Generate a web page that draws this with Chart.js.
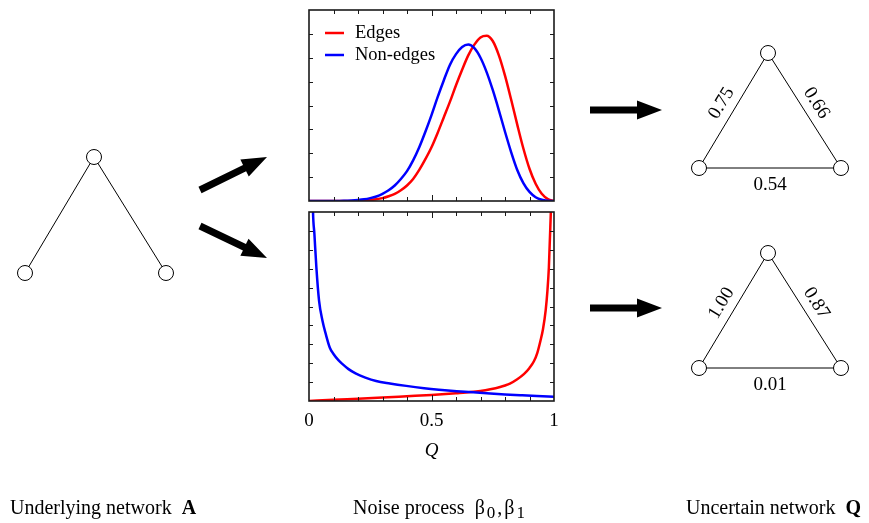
<!DOCTYPE html>
<html>
<head>
<meta charset="utf-8">
<script src="https://cdn.jsdelivr.net/npm/chart.js@4.4.0/dist/chart.umd.min.js"></script>
<style>
body { margin: 0; background: #fff; }
#wrap { position: relative; width: 869px; height: 523px; overflow: hidden; font-family: "Liberation Serif", "Times New Roman", serif; }
canvas { position: absolute; }
.cap { position: absolute; top: 496px; font-size: 20px; line-height: 22px; white-space: nowrap; color: #000; }
.cap sub { font-size: 0.85em; vertical-align: -0.22em; }
.beta { letter-spacing: 2px; }
</style>
</head>
<body>
<div id="wrap">
<canvas id="net" width="869" height="523" style="left:0;top:0"></canvas>
<canvas id="topPanel" width="280" height="212" style="left:290px;top:0"></canvas>
<canvas id="bottomPanel" width="280" height="260" style="left:290px;top:205px"></canvas>
<div class="cap" style="left:10px">Underlying network&nbsp;&nbsp;<b>A</b></div>
<div class="cap" style="left:353px">Noise process&nbsp;&nbsp;<span class="beta">β<sub>0</sub>,β<sub>1</sub></span></div>
<div class="cap" style="left:686px">Uncertain network&nbsp;&nbsp;<b>Q</b></div>
</div>
<script>
// series names
const seriesNames = ['Edges', 'Non-edges'];

// top panel: Q grid and densities (units = tick intervals)
const qTop = [0, 0.025, 0.05, 0.075, 0.1, 0.125, 0.15, 0.175, 0.2, 0.225, 0.25, 0.275, 0.3, 0.325, 0.35, 0.375, 0.4, 0.425, 0.45, 0.475, 0.5,
  0.525, 0.55, 0.575, 0.6, 0.625, 0.65, 0.675, 0.7, 0.725, 0.75, 0.775, 0.8, 0.825, 0.85, 0.875, 0.9, 0.925, 0.95, 0.975, 1];
const edgesTop = [0, 0, 0, 0, 0, 0, 0, 0.005, 0.01, 0.02, 0.04, 0.07, 0.12, 0.2, 0.3, 0.45, 0.65, 0.92, 1.3, 1.75, 2.25,
  2.85, 3.5, 4.15, 4.85, 5.5, 6.1, 6.55, 6.85, 6.92, 6.7, 6.1, 5.25, 4.25, 3.2, 2.2, 1.35, 0.72, 0.3, 0.08, 0];
const nonEdgesTop = [0, 0, 0, 0, 0, 0, 0.01, 0.02, 0.04, 0.07, 0.12, 0.19, 0.3, 0.45, 0.65, 0.92, 1.25, 1.7, 2.25, 2.9, 3.6,
  4.35, 5.05, 5.7, 6.15, 6.45, 6.55, 6.4, 6.0, 5.4, 4.65, 3.8, 2.9, 2.05, 1.3, 0.75, 0.38, 0.16, 0.05, 0.01, 0];

// bottom panel
const qEdgesBottom = [0, 0.1, 0.2, 0.3, 0.4, 0.5, 0.6, 0.66, 0.7, 0.74, 0.78, 0.8, 0.82, 0.85, 0.877, 0.9, 0.918, 0.932,
  0.945, 0.955, 0.966, 0.973, 0.979, 0.985, 0.989, 0.993];
const edgesBottom = [0, 0.07, 0.12, 0.18, 0.25, 0.32, 0.41, 0.47, 0.53, 0.62, 0.74, 0.82, 0.92, 1.15, 1.42, 1.75, 2.1, 2.55,
  3.2, 3.8, 4.8, 5.8, 7.05, 9.2, 11, 15];
const qNonEdgesBottom = [0.006, 0.01, 0.0164, 0.022, 0.03, 0.041, 0.055, 0.0685, 0.085, 0.1, 0.12, 0.137, 0.16, 0.19, 0.23, 0.274,
  0.33, 0.397, 0.47, 0.53, 0.603, 0.67, 0.74, 0.8, 0.87, 0.93, 1];
const nonEdgesBottom = [20, 14.6, 10, 8.85, 7.08, 5.31, 4.25, 3.54, 2.82, 2.49, 2.16, 1.95, 1.7, 1.46, 1.24, 1.06,
  0.93, 0.8, 0.68, 0.6, 0.52, 0.46, 0.4, 0.35, 0.3, 0.26, 0.22];

// axis ticks
const xTickValues = [0, 0.5, 1];
const xTickLabels = ['0', '0.5', '1'];
const xMinorTicks = [0.1, 0.2, 0.3, 0.4, 0.5, 0.6, 0.7, 0.8, 0.9];
const topYTicks = [1, 2, 3, 4, 5, 6, 7];
const bottomYTicks = [1, 2, 3, 4, 5, 6, 7, 8, 9];

// networks: edge lists and the weights printed on the uncertain ones
const edgesA = [[0, 1], [0, 2]];
const edgesQ = [[1, 0], [0, 2], [1, 2]];
const weightsQ1 = ['0.75', '0.66', '0.54'];
const weightsQ2 = ['1.00', '0.87', '0.01'];

// layout of the diagram (page pixels)
const nodeLayout = {
  A: [[94, 157], [25, 273], [166, 273]],
  Q1: [[768, 53], [699, 168], [841, 168]],
  Q2: [[768, 253], [699, 368], [841, 368]]
};
const arrowLayout = [[200, 190, 267, 157], [200, 226, 267, 258], [590, 110, 662, 110], [590, 308, 662, 308]];

const serif = '"Liberation Serif", "Times New Roman", serif';
const red = '#ff0000';
const blue = '#0000ff';

function pts(xs, ys) {
  return xs.map((v, i) => ({ x: v, y: ys[i] }));
}

// frame, inward ticks, tick labels and legend for the two panels
const panelAxes = {
  id: 'panelAxes',
  afterDatasetsDraw(chart, args, opts) {
    const { ctx, chartArea: a } = chart;
    const x = chart.scales.x, y = chart.scales.y;
    const yTicks = opts.which === 'top' ? topYTicks : bottomYTicks;
    ctx.save();
    ctx.strokeStyle = '#1a1a1a';
    ctx.lineWidth = 1;
    ctx.beginPath();
    xMinorTicks.forEach(v => {
      const px = Math.round(x.getPixelForValue(v)) + 0.5;
      const len = v === 0.5 ? 6 : 4;
      ctx.moveTo(px, a.bottom); ctx.lineTo(px, a.bottom - len);
      ctx.moveTo(px, a.top); ctx.lineTo(px, a.top + len);
    });
    yTicks.forEach(v => {
      const py = Math.round(y.getPixelForValue(v)) + 0.5;
      ctx.moveTo(a.left, py); ctx.lineTo(a.left + 4, py);
      ctx.moveTo(a.right, py); ctx.lineTo(a.right - 4, py);
    });
    ctx.stroke();
    ctx.lineWidth = 1.6;
    ctx.strokeRect(a.left, a.top, a.right - a.left, a.bottom - a.top);

    ctx.fillStyle = '#000';
    if (opts.which === 'bottom') {
      ctx.font = '19px ' + serif;
      ctx.textAlign = 'center';
      ctx.textBaseline = 'middle';
      xTickValues.forEach((v, i) => {
        ctx.fillText(xTickLabels[i], x.getPixelForValue(v), a.bottom + 20);
      });
      ctx.font = 'italic 19px ' + serif;
      ctx.fillText('Q', x.getPixelForValue(0.5), a.bottom + 50);
    } else {
      ctx.font = '18.5px ' + serif;
      ctx.textAlign = 'left';
      ctx.textBaseline = 'middle';
      chart.data.datasets.forEach((ds, i) => {
        const ly = a.top + 23 + i * 22;
        ctx.strokeStyle = ds.borderColor;
        ctx.lineWidth = 2.5;
        ctx.beginPath();
        ctx.moveTo(a.left + 16, ly); ctx.lineTo(a.left + 35, ly);
        ctx.stroke();
        ctx.fillText(ds.label, a.left + 46, ly);
      });
    }
    ctx.restore();
  }
};

function panel(id, which, datasets, yMax, pad) {
  return new Chart(document.getElementById(id), {
    type: 'line',
    data: { datasets: datasets },
    options: {
      responsive: false,
      animation: false,
      events: [],
      layout: { padding: pad, autoPadding: false },
      elements: { point: { radius: 0 }, line: { borderWidth: 2.5, cubicInterpolationMode: 'monotone' } },
      scales: {
        x: { type: 'linear', min: 0, max: 1, display: false },
        y: { min: 0, max: yMax, display: false }
      },
      plugins: { legend: { display: false }, tooltip: { enabled: false }, panelAxes: { which: which } }
    },
    plugins: [panelAxes]
  });
}

panel('topPanel', 'top', [
  { label: seriesNames[0], data: pts(qTop, edgesTop), borderColor: red, order: 1 },
  { label: seriesNames[1], data: pts(qTop, nonEdgesTop), borderColor: blue, order: 0 }
], 8, { left: 19, right: 16, top: 10, bottom: 11 });

panel('bottomPanel', 'bottom', [
  { label: seriesNames[0], data: pts(qEdgesBottom, edgesBottom), borderColor: red, order: 1 },
  { label: seriesNames[1], data: pts(qNonEdgesBottom, nonEdgesBottom), borderColor: blue, order: 0 }
], 10, { left: 19, right: 16, top: 7, bottom: 64 });

// network diagram + arrows on one full-page scatter chart
const netDatasets = [];
function addNetwork(nodes, edges) {
  netDatasets.push({
    data: nodes.map(n => ({ x: n[0], y: n[1] })),
    pointRadius: 7.5, pointBackgroundColor: '#fff', pointBorderColor: '#000', pointBorderWidth: 1,
    showLine: false, order: 0
  });
  edges.forEach(e => {
    netDatasets.push({
      data: [{ x: nodes[e[0]][0], y: nodes[e[0]][1] }, { x: nodes[e[1]][0], y: nodes[e[1]][1] }],
      showLine: true, borderColor: '#000', borderWidth: 1, pointRadius: 0, order: 1
    });
  });
}
addNetwork(nodeLayout.A, edgesA);
addNetwork(nodeLayout.Q1, edgesQ);
addNetwork(nodeLayout.Q2, edgesQ);

const netExtras = {
  id: 'netExtras',
  afterDatasetsDraw(chart) {
    const { ctx } = chart;
    const x = chart.scales.x, y = chart.scales.y;
    ctx.save();
    // arrows
    ctx.fillStyle = '#000';
    arrowLayout.forEach(ar => {
      const x0 = x.getPixelForValue(ar[0]), y0 = y.getPixelForValue(ar[1]);
      const x1 = x.getPixelForValue(ar[2]), y1 = y.getPixelForValue(ar[3]);
      const len = Math.hypot(x1 - x0, y1 - y0);
      const ux = (x1 - x0) / len, uy = (y1 - y0) / len;
      const nx = -uy, ny = ux;
      const head = 25, hw = 9.5, sw = 3.5;
      const bx = x1 - ux * head, by = y1 - uy * head;
      ctx.beginPath();
      ctx.moveTo(x0 + nx * sw, y0 + ny * sw);
      ctx.lineTo(bx + nx * sw, by + ny * sw);
      ctx.lineTo(bx + nx * hw, by + ny * hw);
      ctx.lineTo(x1, y1);
      ctx.lineTo(bx - nx * hw, by - ny * hw);
      ctx.lineTo(bx - nx * sw, by - ny * sw);
      ctx.lineTo(x0 - nx * sw, y0 - ny * sw);
      ctx.closePath();
      ctx.fill();
    });
    // edge weights
    ctx.font = '19px ' + serif;
    ctx.textAlign = 'center';
    ctx.textBaseline = 'middle';
    [[nodeLayout.Q1, weightsQ1], [nodeLayout.Q2, weightsQ2]].forEach(([nodes, w]) => {
      const cx = nodes.reduce((s, n) => s + n[0], 0) / 3;
      const cy = nodes.reduce((s, n) => s + n[1], 0) / 3;
      edgesQ.forEach((e, i) => {
        const a = nodes[e[0]], b = nodes[e[1]];
        const ax = x.getPixelForValue(a[0]), ay = y.getPixelForValue(a[1]);
        const bx = x.getPixelForValue(b[0]), by = y.getPixelForValue(b[1]);
        const mx = (ax + bx) / 2, my = (ay + by) / 2;
        let ang = Math.atan2(by - ay, bx - ax);
        let nx = -(by - ay), ny = bx - ax;
        const nl = Math.hypot(nx, ny);
        nx /= nl; ny /= nl;
        if (nx * (mx - x.getPixelForValue(cx)) + ny * (my - y.getPixelForValue(cy)) < 0) { nx = -nx; ny = -ny; }
        const off = Math.abs(ang) < 0.1 ? 17 : 14;
        ctx.save();
        ctx.translate(mx + nx * off, my + ny * off);
        ctx.rotate(ang);
        ctx.fillText(w[i], 0, 0);
        ctx.restore();
      });
    });
    ctx.restore();
  }
};

new Chart(document.getElementById('net'), {
  type: 'scatter',
  data: { datasets: netDatasets },
  options: {
    responsive: false,
    animation: false,
    events: [],
    layout: { padding: 0, autoPadding: false },
    scales: {
      x: { type: 'linear', min: 0, max: 869, display: false },
      y: { min: 0, max: 523, reverse: true, display: false }
    },
    plugins: { legend: { display: false }, tooltip: { enabled: false } }
  },
  plugins: [netExtras]
});
</script>
</body>
</html>
